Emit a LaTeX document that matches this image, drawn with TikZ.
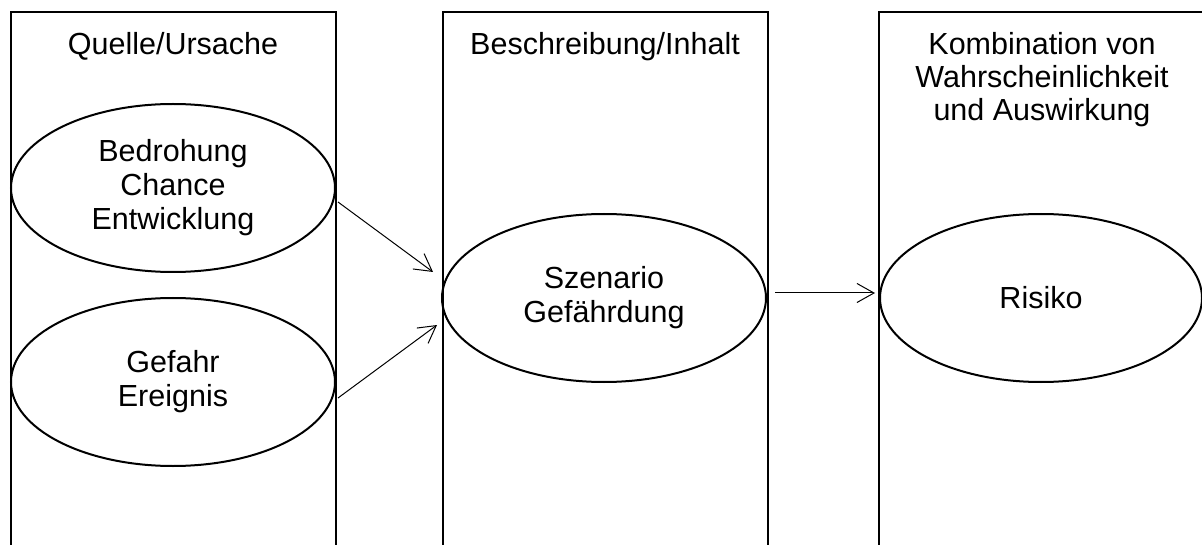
\documentclass[tikz,border=0pt]{standalone}
\usepackage{fontspec}
\setmainfont{Liberation Sans}
\usetikzlibrary{shapes.geometric,arrows.meta,calc}
\begin{document}
\begin{tikzpicture}[x=1pt,y=-1pt,
  colbox/.style={draw,rectangle,line width=2pt,minimum width=325pt,minimum height=560pt,inner sep=0pt},
  oval/.style={draw,ellipse,line width=2pt,minimum width=324pt,minimum height=168pt,inner sep=0pt,align=center,font=\fontsize{30.5}{34}\selectfont},
  title/.style={align=center,inner sep=0pt,anchor=base,font=\fontsize{30.5}{33}\selectfont},
  conn/.style={line width=1pt,-{Straight Barb[length=17pt,width=19pt]}}]
\useasboundingbox (0,0) rectangle (1202,545);
\clip (0,0) rectangle (1202,545);
\node[colbox] (c1) at (173.5,292) {};
\node[colbox] (c2) at (605,292) {};
\node[colbox] (c3) at (1041.5,292) {};
\node[title] (t1) at (173,55) {Quelle/Ursache};
\node[title] (t2) at (605,55) {Beschreibung/Inhalt};
\node[title] (t3) at (1042,121) {Kombination von\\Wahrscheinlichkeit\\und Auswirkung};
\node[oval] (e1) at (173,188) {Bedrohung\\Chance\\Entwicklung};
\node[oval] (e2) at (173,382) {Gefahr\\Ereignis};
\node[oval] (e3) at (604,298) {Szenario\\Gefährdung};
\node[oval,minimum width=322pt] (e4) at (1041,298) {Risiko};
\draw[conn] ($(e1.east)+(2,14)$) -- ($(e3.west)+(-8,-26)$);
\draw[conn] ($(e2.east)+(2,16)$) -- ($(e3.west)+(-4,27)$);
\draw[conn] ($(e3.east)+(8,-5)$) -- ($(e4.west)+(-4,-5)$);
\end{tikzpicture}
\end{document}
